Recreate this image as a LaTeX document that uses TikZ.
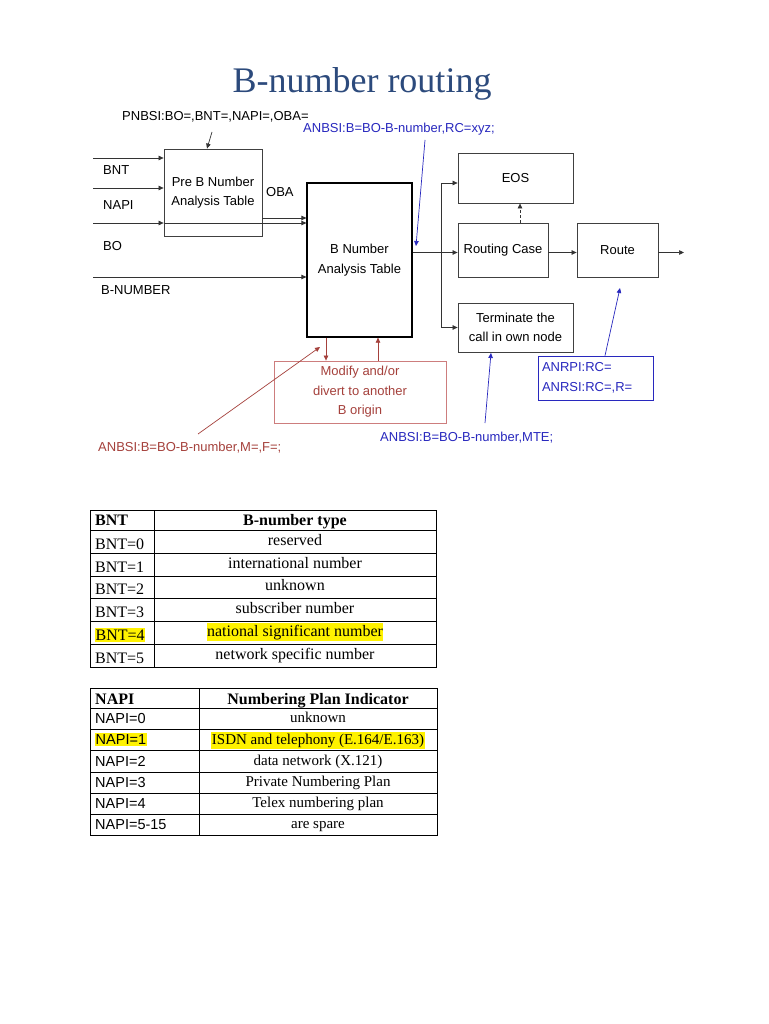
\documentclass[tikz,border=0pt]{standalone}
\usepackage{fontspec}
\setmainfont{Liberation Serif}
\newfontfamily\arialf{Liberation Sans}
\usetikzlibrary{arrows.meta,calc}
\definecolor{titleblue}{RGB}{44,74,124}
\definecolor{annblue}{RGB}{40,40,190}
\definecolor{annred}{RGB}{165,65,60}
\definecolor{boxred}{RGB}{205,125,125}
\begin{document}
\begin{tikzpicture}[x=1pt,y=-1pt,
 box/.style={draw=black!75, line width=0.8pt, rectangle, inner sep=0pt, align=center, font=\arialf\fontsize{13}{19.5}\selectfont},
 lab/.style={inner sep=0pt, font=\arialf\fontsize{13}{15}\selectfont},
 arr/.style={draw=black!80, line width=0.7pt, -{Triangle[length=5pt,width=4.5pt]}},
 barr/.style={draw=annblue, line width=0.7pt, -{Triangle[length=5pt,width=4.5pt]}},
 rarr/.style={draw=annred, line width=0.7pt, -{Triangle[length=5pt,width=4.5pt]}},
 tab/.style={draw=black, line width=0.9pt},
 thead/.style={inner sep=0pt, anchor=base, font=\bfseries\fontsize{16}{18}\selectfont},
 tcell/.style={inner sep=0pt, anchor=base, font=\fontsize{16}{18}\selectfont},
 tcellb/.style={inner sep=0pt, anchor=base, font=\fontsize{15}{17}\selectfont},
 tcella/.style={inner sep=0pt, anchor=base west, font=\arialf\fontsize{14.5}{17}\selectfont},
 hl/.style={fill=yellow, inner xsep=0.5pt, inner ysep=1.5pt}
]
\path[use as bounding box, fill=white] (0,0) rectangle (768,1024);

% title
\node[anchor=base, inner sep=0pt, text=titleblue, font=\fontsize{36}{40}\selectfont] (title) at (362,93) {B-number routing};

% boxes
\node[box, minimum width=98pt, minimum height=87pt] (pre) at (213,192.5) {Pre B Number\\Analysis Table};
\node[box, draw=black, line width=1.2pt, minimum width=105pt, minimum height=154pt] (bnum) at (359.5,260) {B Number\\Analysis Table};
\node[box, minimum width=115pt, minimum height=50pt] (eos) at (515.5,178) {EOS};
\node[box, minimum width=90pt, minimum height=54pt] (rc) at (503,250) {Routing Case};
\node[box, minimum width=81pt, minimum height=54pt] (route) at (617.5,250) {Route};
\node[box, minimum width=115pt, minimum height=49pt] (term) at (515.5,327.5) {Terminate the\\call in own node};
\node[box, draw=boxred, text=annred, minimum width=172pt, minimum height=62pt] (mod) at (360,392) {Modify and/or\\divert to another\\B origin};
\node[box, draw=annblue, text=annblue, text width=107pt, inner xsep=4pt, align=left, minimum height=44pt] (anrpi) at (595.5,378) {ANRPI:RC=\\ANRSI:RC=,R=};

% labels
\node[lab, anchor=base west] (pnbsi) at (122,120.7) {PNBSI:BO=,BNT=,NAPI=,OBA=};
\node[lab, anchor=base west, text=annblue] (anbrc) at (303,132.5) {ANBSI:B=BO-B-number,RC=xyz;};
\node[lab, anchor=base west] (lbnt) at (103,174.6) {BNT};
\node[lab, anchor=base west] (lnapi) at (103,209.5) {NAPI};
\node[lab, anchor=base west] (lbo) at (103,250.5) {BO};
\node[lab, anchor=base west] (lbnumber) at (101,294.5) {B-NUMBER};
\node[lab, anchor=base west] (loba) at (266,196.5) {OBA};
\node[lab, anchor=base west, text=annred] (anbred) at (98,451.5) {ANBSI:B=BO-B-number,M=,F=;};
\node[lab, anchor=base west, text=annblue] (anbmte) at (380,441.5) {ANBSI:B=BO-B-number,MTE;};

% inputs
\coordinate (bntin) at (93,158);
\coordinate (napiin) at (93,188);
\coordinate (boin) at (93,223);
\coordinate (bnumin) at (93,277);
\coordinate (obay) at (0,218);
\draw[arr] (bntin) -- (bntin -| pre.west);
\draw[arr] (napiin) -- (napiin -| pre.west);
\draw[arr] (boin) -- (boin -| pre.west);
\draw[arr] (boin -| pre.west) -- (boin -| bnum.west);
\draw[arr] (pre.east |- obay) -- (bnum.west |- obay);
\draw[arr] (bnumin) -- (bnumin -| bnum.west);

% outputs
\coordinate (br) at (441,252.5);
\draw[arr] (bnum.east |- br) -- (rc.west |- br);
\draw[arr] (br) |- ($(eos.west)+(0,5)$);
\draw[arr] (br) |- (term.west);
\draw[arr] (rc.east |- br) -- (route.west |- br);
\coordinate (out) at (684,252.5);
\draw[arr] (route.east |- out) -- (out);
\coordinate (dsh) at (520,0);
\draw[arr, densely dashed] (dsh |- rc.north) -- (dsh |- eos.south);

% red links
\coordinate (rd) at (326,0);
\coordinate (ru) at (378,0);
\draw[rarr] (rd |- bnum.south) -- (rd |- mod.north);
\draw[rarr] (ru |- mod.north) -- (ru |- bnum.south);
\coordinate (rdst) at (198,434);
\coordinate (rdtip) at (320,347);
\draw[rarr] (rdst) -- (rdtip);

% annotation arrows
\coordinate (pnst) at (212,132);
\coordinate (pnx) at (207,0);
\draw[arr] (pnst) -- (pre.north -| pnx);
\coordinate (b1s) at (425,140);
\coordinate (b1e) at (416,246);
\draw[barr] (b1s) -- (b1e);
\coordinate (b2s) at (485,423);
\coordinate (b2e) at (491,353);
\draw[barr] (b2s) -- (b2e);
\coordinate (b3x) at (605,0);
\coordinate (b3e) at (620,288);
\draw[barr] (anrpi.north -| b3x) -- (b3e);

% BNT table
\draw[tab] (90,510) rectangle (436,667);
\draw[tab] (154,510) -- (154,667);
\foreach \y in {530,553,576,598,621,644} \draw[tab] (90,\y) -- (436,\y);
\node[thead, anchor=base west] (t1h1) at (95,525) {BNT};
\node[thead] (t1h2) at (295,525) {B-number type};
\node[tcell, anchor=base west] (t1a0) at (95,549) {BNT=0};
\node[tcell] (t1b0) at (295,545) {reserved};
\node[tcell, anchor=base west] (t1a1) at (95,572) {BNT=1};
\node[tcell] (t1b1) at (295,568) {international number};
\node[tcell, anchor=base west] (t1a2) at (95,594.5) {BNT=2};
\node[tcell] (t1b2) at (295,590.5) {unknown};
\node[tcell, anchor=base west] (t1a3) at (95,617) {BNT=3};
\node[tcell] (t1b3) at (295,613) {subscriber number};
\node[tcell, hl, anchor=base west] (t1a4) at (95,640) {BNT=4};
\node[tcell, hl] (t1b4) at (295,636) {national significant number};
\node[tcell, anchor=base west] (t1a5) at (95,663) {BNT=5};
\node[tcell] (t1b5) at (295,659) {network specific number};

% NAPI table
\draw[tab] (90,688) rectangle (437,835);
\draw[tab] (199,688) -- (199,835);
\foreach \y in {708,729,750,772,793,814} \draw[tab] (90,\y) -- (437,\y);
\node[thead, anchor=base west] (t2h1) at (95,704) {NAPI};
\node[thead] (t2h2) at (318,704) {Numbering Plan Indicator};
\node[tcella] (t2a0) at (95,723) {NAPI=0};
\node[tcellb] (t2b0) at (318,722) {unknown};
\node[tcella, hl] (t2a1) at (95,744) {NAPI=1};
\node[tcellb, hl] (t2b1) at (318,744) {ISDN and telephony (E.164/E.163)};
\node[tcella] (t2a2) at (95,766) {NAPI=2};
\node[tcellb] (t2b2) at (318,765) {data network (X.121)};
\node[tcella] (t2a3) at (95,787) {NAPI=3};
\node[tcellb] (t2b3) at (318,786) {Private Numbering Plan};
\node[tcella] (t2a4) at (95,808) {NAPI=4};
\node[tcellb] (t2b4) at (318,807) {Telex numbering plan};
\node[tcella] (t2a5) at (95,829) {NAPI=5-15};
\node[tcellb] (t2b5) at (318,828) {are spare};
\end{tikzpicture}
\end{document}
